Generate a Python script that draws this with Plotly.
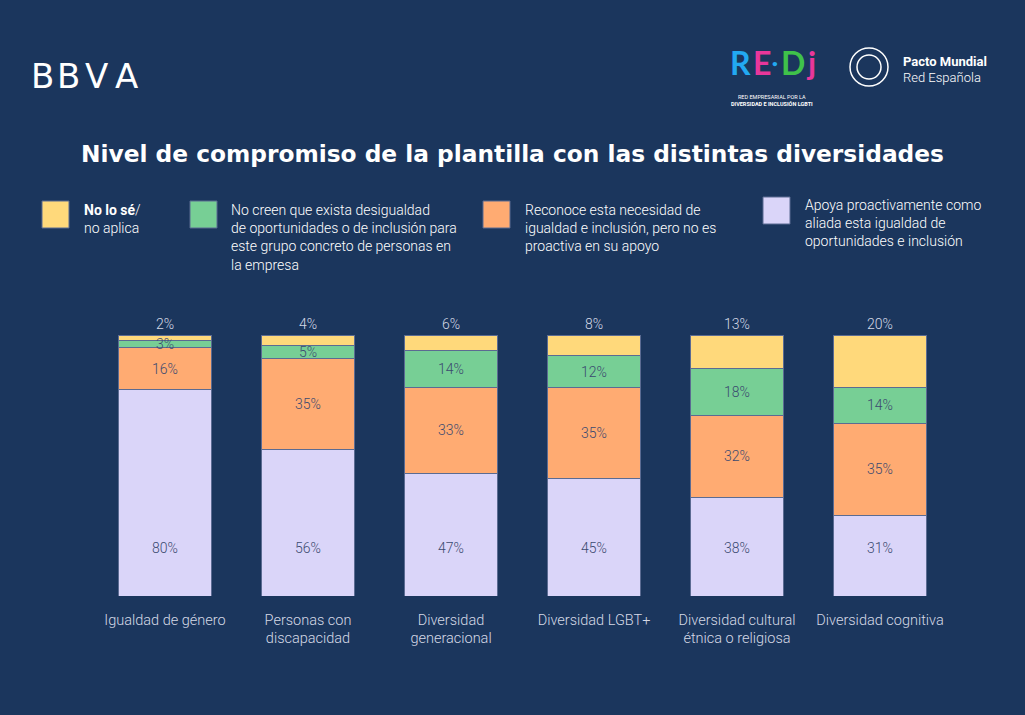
import plotly.graph_objects as go

# ---------------- data ----------------
categories = ["Igualdad de género", "Personas con<br>discapacidad", "Diversidad<br>generacional",
              "Diversidad LGBT+", "Diversidad cultural<br>étnica o religiosa", "Diversidad cognitiva"]
apoya = [80, 56, 47, 45, 38, 31]
reconoce = [16, 35, 33, 35, 32, 35]
no_creen = [3, 5, 14, 12, 18, 14]
no_se = [2, 4, 6, 8, 13, 20]

legend_labels = [
    "<b>No lo sé</b>/<br>no aplica",
    "No creen que exista desigualdad<br>de oportunidades o de inclusión para<br>este grupo concreto de personas en<br>la empresa",
    "Reconoce esta necesidad de<br>igualdad e inclusión, pero no es<br>proactiva en su apoyo",
    "Apoya proactivamente como<br>aliada esta igualdad de<br>oportunidades e inclusión",
]
title_text = "Nivel de compromiso de la plantilla con las distintas diversidades"

# ---------------- style ----------------
BG = "#1b365d"
C_YEL = "#ffd97b"
C_GRN = "#77cf95"
C_ORG = "#ffab72"
C_PUR = "#dad5f9"
EDGE = "#5b6b92"
IN_TXT = "#3b4a70"
OUT_TXT = "#d5d9e6"
FONT = "Roboto"

series = [(apoya, C_PUR), (reconoce, C_ORG), (no_creen, C_GRN), (no_se, C_YEL)]

fig = go.Figure()
for vals, col in series:
    fig.add_trace(go.Bar(x=categories, y=vals, marker=dict(color=col, line=dict(color=EDGE, width=1)),
                         hoverinfo="skip", showlegend=False))

totals = [a + b + c + d for a, b, c, d in zip(apoya, reconoce, no_creen, no_se)]
ann = []
lab_font = dict(family=FONT, size=14, color=IN_TXT, weight=300)
for i, cat in enumerate(categories):
    t = totals[i]
    p = apoya[i] / t * 100
    o = reconoce[i] / t * 100
    g = no_creen[i] / t * 100
    ann.append(dict(x=cat, y=18.4, text=f"{apoya[i]}%", showarrow=False, xref="x", yref="y",
                    xanchor="center", yanchor="middle", font=lab_font))
    ann.append(dict(x=cat, y=p + o / 2, text=f"{reconoce[i]}%", showarrow=False, xref="x", yref="y",
                    xanchor="center", yanchor="middle", font=lab_font))
    ann.append(dict(x=cat, y=p + o + g / 2, text=f"{no_creen[i]}%", showarrow=False, xref="x", yref="y",
                    xanchor="center", yanchor="middle", font=lab_font))
    ann.append(dict(x=cat, y=100, text=f"{no_se[i]}%", showarrow=False, xref="x", yref="y",
                    xanchor="center", yanchor="bottom", yshift=1,
                    font=dict(family=FONT, size=14, color=OUT_TXT, weight=300)))

W, H = 1025, 715
def px(x):
    return x / W
def py(y):
    return 1 - y / H

# legend swatches + texts
sw = [(42, 201, C_YEL), (190, 201, C_GRN), (483, 201, C_ORG), (763, 197, C_PUR)]
txt_pos = [(82, 200), (229, 200), (523, 200), (803, 195)]
shapes = []
for (x0, y0, col) in sw:
    shapes.append(dict(type="rect", xref="paper", yref="paper", x0=px(x0), x1=px(x0 + 27),
                       y0=py(y0), y1=py(y0 + 27), fillcolor=col, line=dict(color=EDGE, width=1)))
for (x0, y0), lab in zip(txt_pos, legend_labels):
    ann.append(dict(x=px(x0), y=py(y0), xref="paper", yref="paper", xanchor="left", yanchor="top",
                    align="left", text=lab, showarrow=False,
                    font=dict(family=FONT, size=14, color="#ffffff", weight=300)))

# title
ann.append(dict(x=0.5, y=py(153), xref="paper", yref="paper", xanchor="center", yanchor="middle",
                text=f"<b>{title_text}</b>",
                showarrow=False, font=dict(family="DejaVu Sans", size=23.3, color="#ffffff")))

# BBVA logo (text)
for ch, x in zip("BBVA", [42, 68, 96, 126]):
    ann.append(dict(x=px(x), y=py(76), xref="paper", yref="paper", xanchor="center", yanchor="middle",
                    text=ch, showarrow=False, font=dict(family="DejaVu Sans", size=34, color="#ffffff")))

# REDI logo approximation
redi = [("R", "#22a9f2", 740, 32), ("E", "#e8379b", 762, 32), ("•", "#22a9f2", 775, 10),
        ("D", "#3fc24a", 793, 32), ("j", "#e8379b", 811, 32)]
for ch, col, x, sz in redi:
    ann.append(dict(x=px(x), y=py(63), xref="paper", yref="paper", xanchor="center", yanchor="middle",
                    text=f"<b>{ch}</b>", showarrow=False, font=dict(family="Lato", size=sz, color=col)))
ann.append(dict(x=px(772), y=py(100), xref="paper", yref="paper", xanchor="center", yanchor="middle",
                text="RED EMPRESARIAL POR LA<br><b>DIVERSIDAD E INCLUSIÓN LGBTI</b>", showarrow=False,
                font=dict(family=FONT, size=5.5, color="#ffffff")))

# UN global compact approximation
shapes.append(dict(type="circle", xref="paper", yref="paper", x0=px(850), x1=px(888), y0=py(48), y1=py(86),
                   line=dict(color="#ffffff", width=1.5), fillcolor="rgba(0,0,0,0)"))
shapes.append(dict(type="circle", xref="paper", yref="paper", x0=px(857), x1=px(881), y0=py(55), y1=py(79),
                   line=dict(color="#ffffff", width=1.5), fillcolor="rgba(0,0,0,0)"))
ann.append(dict(x=px(901), y=py(61), xref="paper", yref="paper", xanchor="left", yanchor="middle",
                text="<b>Pacto Mundial</b>",
                showarrow=False, font=dict(family=FONT, size=13, color="#ffffff")))
ann.append(dict(x=px(901), y=py(77), xref="paper", yref="paper", xanchor="left", yanchor="middle",
                text="Red Española",
                showarrow=False, font=dict(family=FONT, size=13, color="#ffffff", weight=300)))

fig.update_layout(
    width=W, height=H, margin=dict(l=0, r=0, t=0, b=0),
    paper_bgcolor=BG, plot_bgcolor=BG,
    barmode="stack", barnorm="percent", bargap=0.35,
    annotations=ann, shapes=shapes,
    xaxis=dict(domain=[93.5 / W, 951.5 / W], showgrid=False, zeroline=False, showline=False, ticks="",
               ticklabelstandoff=13, fixedrange=True,
               tickfont=dict(family=FONT, size=14.5, color=OUT_TXT, weight=300)),
    yaxis=dict(domain=[1 - 596 / H, 1 - 335 / H], range=[0, 100], visible=False, fixedrange=True),
)

fig.write_html("out.html", config={"displayModeBar": False},
               post_script="document.body.style.margin='0';")
